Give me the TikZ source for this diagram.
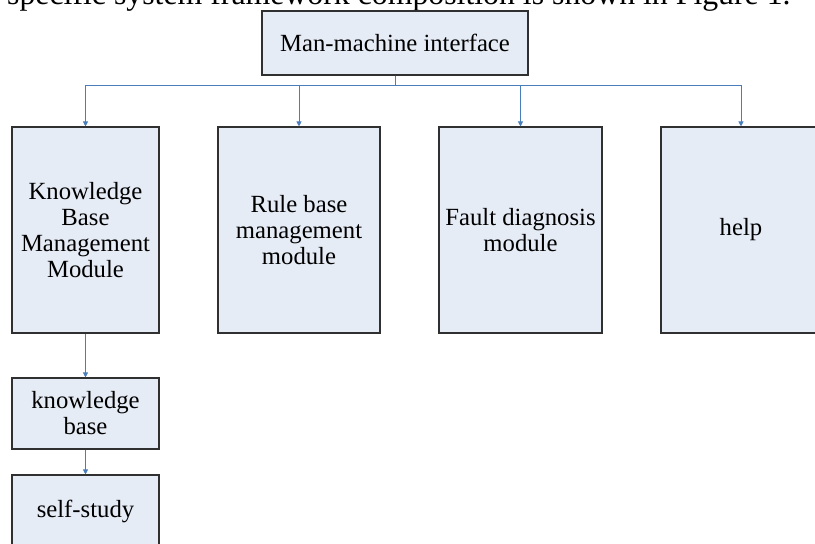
\documentclass[tikz,border=0pt]{standalone}
\usepackage{fontspec}
\setmainfont{Liberation Serif}
\usetikzlibrary{arrows.meta}
\definecolor{boxfill}{HTML}{E6ECF6}
\definecolor{conncol}{HTML}{4A7EBB}
\definecolor{edgecol}{HTML}{303030}
\begin{document}
\begin{tikzpicture}[x=1pt,y=-1pt,
  box/.style={draw=edgecol, fill=boxfill, line width=1.1pt, inner sep=0pt, align=center,
    font=\fontsize{24.7}{26}\selectfont},
  link/.style={draw=conncol, line width=0.9pt, -{Triangle[length=5pt,width=5pt]}}]
\useasboundingbox (0,0) rectangle (815,544);
\clip (0,0) rectangle (815,544);
\node[anchor=base west, inner sep=0pt, font=\fontsize{31.8}{34}\selectfont] (caption) at (7,4)
  {specific system framework composition is shown in Figure 1.};
\node[box, minimum width=266pt, minimum height=64pt] (mmi) at (395,43) {Man-machine interface};
\node[box, minimum width=147pt, minimum height=206pt] (kbmm) at (85.5,230) {Knowledge\\Base\\Management\\Module};
\node[box, minimum width=162pt, minimum height=206pt] (rule) at (299,230) {Rule base\\management\\module};
\node[box, minimum width=163pt, minimum height=206pt] (fault) at (520.5,230) {Fault diagnosis\\module};
\node[box, minimum width=160pt, minimum height=206pt] (help) at (741,230) {help};
\node[box, minimum width=147pt, minimum height=71pt] (kb) at (85.5,413.5) {knowledge\\base};
\node[box, minimum width=147pt, minimum height=72pt] (self) at (85.5,511) {self-study};
\coordinate (bus) at (0,85);
\draw[link] (mmi.south) -- (mmi.south |- bus) -| (kbmm.north);
\draw[link] (mmi.south) -- (mmi.south |- bus) -| (rule.north);
\draw[link] (mmi.south) -- (mmi.south |- bus) -| (fault.north);
\draw[link] (mmi.south) -- (mmi.south |- bus) -| (help.north);
\draw[link] (kbmm.south) -- (kb.north);
\draw[link] (kb.south) -- (self.north);
\end{tikzpicture}
\end{document}
